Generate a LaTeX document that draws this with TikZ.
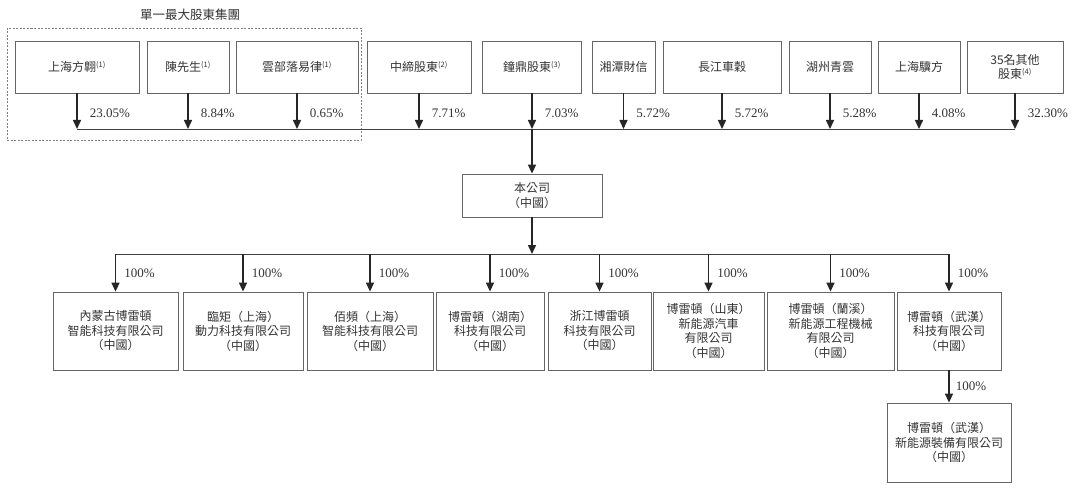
\documentclass[tikz,border=0pt]{standalone}
\usepackage{fontspec}
\setmainfont{Liberation Serif}
\newfontfamily\cjk{Noto Sans CJK TC}
\usetikzlibrary{arrows.meta}

\tikzset{
  holder/.style={draw=black!60, line width=0.8pt, minimum height=52pt, inner sep=0pt,
    align=center, text=black!80, font=\cjk\fontsize{12}{14.5}\selectfont},
  sub/.style={holder, minimum height=78pt},
  own/.style={draw=black!85, line width=1.5pt, -{Triangle[width=8pt,length=9pt]}},
  bus/.style={draw=black!75, line width=1pt},
  pct/.style={right, inner sep=0pt, text=black!80, font=\fontsize{13}{13}\selectfont}
}
\newcommand{\fnmark}[1]{\textsuperscript{\fontsize{7.5}{7.5}\selectfont(#1)}}

\begin{document}
\begin{tikzpicture}[x=1pt,y=-1pt]
\useasboundingbox (0,0) rectangle (1080,495);

% shareholders
\node[holder, minimum width=124pt] (s1) at (77,67) {上海方翺\fnmark{1}};
\node[holder, minimum width=82pt] (s2) at (188,67) {陳先生\fnmark{1}};
\node[holder, minimum width=122pt] (s3) at (297,67) {雲部落易律\fnmark{1}};
\node[holder, minimum width=104pt] (s4) at (419,67) {中締股東\fnmark{2}};
\node[holder, minimum width=99pt] (s5) at (532,67) {鐘鼎股東\fnmark{3}};
\node[holder, minimum width=63pt] (s6) at (623.5,67) {湘潭財信};
\node[holder, minimum width=118pt] (s7) at (722,67) {長江車穀};
\node[holder, minimum width=82pt] (s8) at (830,67) {湖州青雲};
\node[holder, minimum width=82pt] (s9) at (919,67) {上海驥方};
\node[holder, minimum width=96pt] (s10) at (1015,67) {35名其他\\股東\fnmark{4}};

% single largest shareholder group
\draw[black!50, line width=0.7pt, dash pattern=on 2pt off 1.5pt] (7,28) rectangle (361,140);
\node[text=black!80, font=\cjk\fontsize{12.5}{12.5}\selectfont] (grp) at (190,15) {單一最大股東集團};

% first bus
\coordinate (top) at (532,129);
\draw[bus] (s1 |- top) -- (s10 |- top);
\foreach \s/\p in {s1/23.05,s2/8.84,s3/0.65,s4/7.71,s5/7.03,s6/5.72,s7/5.72,s8/5.28,s9/4.08,s10/32.30}
  \draw[own] (\s) -- (\s |- top) node[pct, midway, xshift=12pt, yshift=-2pt] {\p\%};

% company
\node[holder, minimum width=140pt, minimum height=43pt] (co) at (532,195.5) {本公司\\（中國）};
\draw[own] (top) -- (co);
\coordinate (low) at (532,254);
\draw[own] (co) -- (low);

% subsidiaries
\node[sub, minimum width=125pt] (c1) at (115.5,331) {內蒙古博雷頓\\智能科技有限公司\\（中國）};
\node[sub, minimum width=120pt] (c2) at (243,331) {臨矩（上海）\\動力科技有限公司\\（中國）};
\node[sub, minimum width=126pt] (c3) at (370,331) {佰頻（上海）\\智能科技有限公司\\（中國）};
\node[sub, minimum width=108pt] (c4) at (490,331) {博雷頓（湖南）\\科技有限公司\\（中國）};
\node[sub, minimum width=103pt] (c5) at (599.5,331) {浙江博雷頓\\科技有限公司\\（中國）};
\node[sub, minimum width=111pt] (c6) at (708.5,331) {博雷頓（山東）\\新能源汽車\\有限公司\\（中國）};
\node[sub, minimum width=127pt] (c7) at (830.5,331) {博雷頓（蘭溪）\\新能源工程機械\\有限公司\\（中國）};
\node[sub, minimum width=104pt] (c8) at (949,331) {博雷頓（武漢）\\科技有限公司\\（中國）};
\node[sub, minimum width=124pt, minimum height=79pt] (c9) at (949,442.5) {博雷頓（武漢）\\新能源裝備有限公司\\（中國）};

% second bus
\draw[bus] (c1 |- low) -- (c8 |- low);
\foreach \c in {c1,c2,c3,c4,c5,c6,c7,c8}
  \draw[own] (\c |- low) -- (\c) node[pct, midway, xshift=8pt] {100\%};
\draw[own] (c8) -- (c9) node[pct, midway, xshift=6pt] {100\%};
\end{tikzpicture}
\end{document}
